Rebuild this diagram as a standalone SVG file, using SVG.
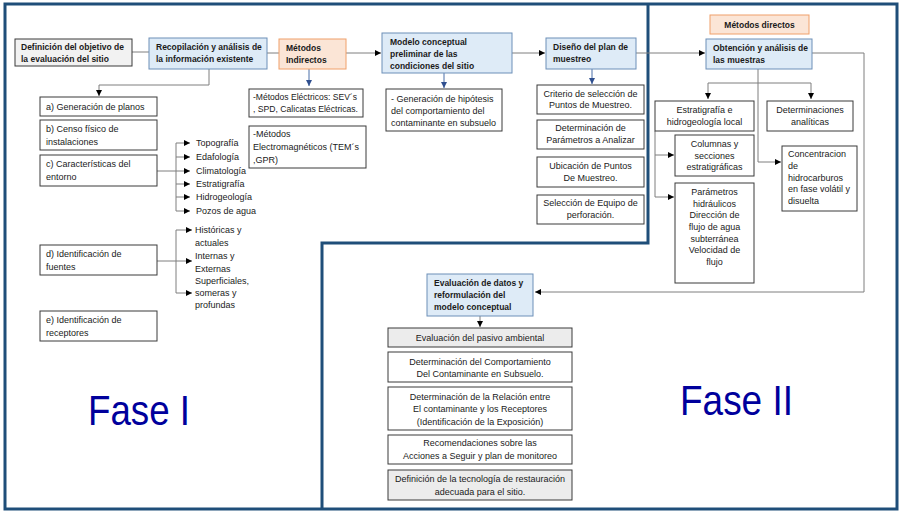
<svg xmlns="http://www.w3.org/2000/svg" width="902" height="515" viewBox="0 0 902 515">
<defs>
<style>
.t{font-family:"Liberation Sans",Arial,sans-serif;font-size:9px;fill:#1a1a1a}
.b{font-weight:bold;font-size:8.5px}
.c{text-anchor:middle}
.box{fill:#fff;stroke:#3a3a3a;stroke-width:1}
.gray{fill:#ececec;stroke:#3a3a3a;stroke-width:1}
.blue{fill:#deebf7;stroke:#6d8fb8;stroke-width:1}
.org{fill:#fbe5d6;stroke:#f0a06a;stroke-width:1}
.ln{fill:none;stroke:#7f7f7f;stroke-width:1}
.lb{fill:none;stroke:#4a6fa8;stroke-width:1}
.fase{font-family:"Liberation Sans",Arial,sans-serif;font-size:42px;fill:#00009c}
</style>
<marker id="ah" viewBox="0 0 10 10" refX="10" refY="5" markerWidth="6" markerHeight="6" markerUnits="userSpaceOnUse" orient="auto"><path d="M0,0 L10,5 L0,10 z" fill="#000"/></marker>
<marker id="ahb" viewBox="0 0 10 10" refX="10" refY="5" markerWidth="6" markerHeight="6" markerUnits="userSpaceOnUse" orient="auto"><path d="M0,0 L10,5 L0,10 z" fill="#2f4f8f"/></marker>
</defs>
<rect x="0" y="0" width="902" height="515" fill="#fff"/>

<g id="frame" fill="none" stroke="#1f4e79" stroke-width="3">
<rect x="5" y="4" width="892" height="505"/>
<polyline points="648,4 648,243 322,243 322,509"/>
</g>

<g id="connectors">
<line class="ln" x1="132" y1="52" x2="149" y2="52"/>
<line class="ln" x1="267" y1="53" x2="279" y2="53"/>
<line class="ln" x1="346" y1="53" x2="381" y2="53" marker-end="url(#ah)"/>
<line class="ln" x1="512" y1="53" x2="545" y2="53" marker-end="url(#ah)"/>
<line class="ln" x1="636" y1="53" x2="705" y2="53" marker-end="url(#ah)"/>
<polyline class="ln" points="209,69 209,85 99,85 99,96" marker-end="url(#ah)"/>
<line class="lb" x1="309" y1="69" x2="309" y2="86" marker-end="url(#ahb)"/>
<line class="lb" x1="444" y1="73" x2="444" y2="88" marker-end="url(#ahb)"/>
<line class="lb" x1="592" y1="69" x2="592" y2="84" marker-end="url(#ahb)"/>
<line class="ln" x1="157" y1="171" x2="176" y2="171"/>
<line class="ln" x1="176" y1="143" x2="176" y2="211"/>
<line class="ln" x1="176" y1="143" x2="190" y2="143" marker-end="url(#ah)"/>
<line class="ln" x1="176" y1="157" x2="190" y2="157" marker-end="url(#ah)"/>
<line class="ln" x1="176" y1="171" x2="190" y2="171" marker-end="url(#ah)"/>
<line class="ln" x1="176" y1="184" x2="190" y2="184" marker-end="url(#ah)"/>
<line class="ln" x1="176" y1="197" x2="190" y2="197" marker-end="url(#ah)"/>
<line class="ln" x1="176" y1="211" x2="190" y2="211" marker-end="url(#ah)"/>
<line class="ln" x1="157" y1="261" x2="176" y2="261"/>
<line class="ln" x1="176" y1="230" x2="176" y2="293"/>
<line class="ln" x1="176" y1="230" x2="192" y2="230" marker-end="url(#ah)"/>
<line class="ln" x1="176" y1="261" x2="192" y2="261" marker-end="url(#ah)"/>
<line class="ln" x1="176" y1="293" x2="192" y2="293" marker-end="url(#ah)"/>
<polyline class="ln" points="758,69 758,162 781,162" marker-end="url(#ah)"/>
<line class="ln" x1="708" y1="83" x2="811" y2="83"/>
<line class="ln" x1="708" y1="83" x2="708" y2="99" marker-end="url(#ah)"/>
<line class="ln" x1="811" y1="83" x2="811" y2="99" marker-end="url(#ah)"/>
<line class="ln" x1="655" y1="131" x2="655" y2="197"/>
<line class="ln" x1="655" y1="155" x2="674" y2="155" marker-end="url(#ah)"/>
<line class="ln" x1="655" y1="197" x2="674" y2="197" marker-end="url(#ah)"/>
<polyline class="ln" points="812,53 864,53 864,292 535,292" marker-end="url(#ah)"/>
<line class="ln" x1="480" y1="316" x2="480" y2="327" marker-end="url(#ah)"/>
</g>

<g id="n_defobj"><rect class="gray" x="15" y="39" width="117" height="27" style="fill:#f2f2f2"/>
<text class="t b" x="21" y="50">Definición del objetivo de</text><text class="t b" x="21" y="62">la evaluación del sitio</text></g>
<g id="n_recop"><rect class="blue" x="149" y="38" width="118" height="31"/>
<text class="t b" x="156" y="50">Recopilación y análisis de</text><text class="t b" x="156" y="62">la información existente</text></g>
<g id="n_metind"><rect class="org" x="279" y="39" width="67" height="30"/>
<text class="t b" x="286" y="51">Métodos</text><text class="t b" x="286" y="63">Indirectos</text></g>
<g id="n_modelo"><rect class="blue" x="382" y="33" width="130" height="40"/>
<text class="t b" x="390" y="45">Modelo conceptual</text><text class="t b" x="390" y="57">preliminar de las</text><text class="t b" x="390" y="69">condiciones del sitio</text></g>
<g id="n_diseno"><rect class="blue" x="546" y="38" width="90" height="31"/>
<text class="t b" x="553" y="50">Diseño del plan de</text><text class="t b" x="553" y="62">muestreo</text></g>
<g id="n_metdir"><rect class="org" x="710" y="15" width="99" height="19"/>
<text class="t b c" x="759.5" y="28">Métodos directos</text></g>
<g id="n_obt"><rect class="blue" x="706" y="39" width="106" height="30"/>
<text class="t b" x="713" y="51">Obtención y análisis de</text><text class="t b" x="713" y="63">las muestras</text></g>

<g id="n_a"><rect class="box" x="40" y="97" width="117" height="19"/><text class="t" x="46" y="110">a) Generación de planos</text></g>
<g id="n_b"><rect class="box" x="40" y="120" width="117" height="30"/><text class="t" x="46" y="132">b) Censo físico de</text><text class="t" x="46" y="145">instalaciones</text></g>
<g id="n_c"><rect class="box" x="40" y="155" width="117" height="31"/><text class="t" x="46" y="167">c) Características del</text><text class="t" x="46" y="180">entorno</text></g>
<g id="n_c_items">
<text class="t" x="196" y="146">Topografía</text><text class="t" x="196" y="160">Edafología</text><text class="t" x="196" y="174">Climatología</text>
<text class="t" x="196" y="187">Estratigrafía</text><text class="t" x="196" y="200">Hidrogeología</text><text class="t" x="196" y="214">Pozos de agua</text></g>
<g id="n_d"><rect class="box" x="40" y="245" width="117" height="30"/><text class="t" x="46" y="257">d) Identificación de</text><text class="t" x="46" y="270">fuentes</text></g>
<g id="n_d_items">
<text class="t" x="195" y="233">Históricas y</text><text class="t" x="195" y="246">actuales</text>
<text class="t" x="195" y="259">Internas y</text><text class="t" x="195" y="272">Externas</text>
<text class="t" x="195" y="284">Superficiales,</text><text class="t" x="195" y="296">someras y</text><text class="t" x="195" y="308">profundas</text></g>
<g id="n_e"><rect class="box" x="40" y="311" width="117" height="30"/><text class="t" x="46" y="323">e) Identificación de</text><text class="t" x="46" y="336">receptores</text></g>

<g id="n_elec"><rect class="box" x="249" y="89" width="114" height="28"/><text class="t" x="253" y="100" textLength="104" lengthAdjust="spacingAndGlyphs">-Métodos Eléctricos: SEV´s</text><text class="t" x="253" y="112" textLength="105" lengthAdjust="spacingAndGlyphs">, SPD, Calicatas Eléctricas.</text></g>
<g id="n_em"><rect class="box" x="249" y="126" width="117" height="42"/><text class="t" x="253" y="137">-Métodos</text><text class="t" x="253" y="150">Electromagnéticos (TEM´s</text><text class="t" x="253" y="163">,GPR)</text></g>
<g id="n_hip"><rect class="box" x="386" y="89" width="116" height="42"/><text class="t" x="391" y="102">- Generación de hipótesis</text><text class="t" x="391" y="114">del comportamiento del</text><text class="t" x="391" y="126">contaminante en subsuelo</text></g>

<g id="n_crit"><rect class="box" x="537" y="85" width="107" height="29"/><text class="t c" x="590.5" y="96.5">Criterio de selección de</text><text class="t c" x="590.5" y="108">Puntos de Muestreo.</text></g>
<g id="n_det"><rect class="box" x="537" y="120" width="107" height="29"/><text class="t c" x="590.5" y="131">Determinación de</text><text class="t c" x="590.5" y="143">Parámetros a Analizar</text></g>
<g id="n_ubi"><rect class="box" x="537" y="157" width="107" height="30"/><text class="t c" x="590.5" y="169">Ubicación de Puntos</text><text class="t c" x="590.5" y="181">De Muestreo.</text></g>
<g id="n_sel"><rect class="box" x="537" y="195" width="107" height="29"/><text class="t c" x="590.5" y="206">Selección de Equipo de</text><text class="t c" x="590.5" y="218">perforación.</text></g>

<g id="n_estr"><rect class="box" x="655" y="101" width="99" height="30"/><text class="t c" x="704.5" y="113">Estratigrafía e</text><text class="t c" x="704.5" y="125">hidrogeología local</text></g>
<g id="n_detan"><rect class="box" x="767" y="101" width="86" height="30"/><text class="t c" x="810" y="113">Determinaciones</text><text class="t c" x="810" y="125">analíticas</text></g>
<g id="n_col"><rect class="box" x="675" y="135" width="79" height="41"/><text class="t c" x="714.5" y="147">Columnas y</text><text class="t c" x="714.5" y="159">secciones</text><text class="t c" x="714.5" y="170">estratigráficas</text></g>
<g id="n_par"><rect class="box" x="675" y="183" width="79" height="100"/>
<text class="t c" x="714.5" y="195">Parámetros</text><text class="t c" x="714.5" y="206.5">hidráulicos</text><text class="t c" x="714.5" y="218">Dirección de</text><text class="t c" x="714.5" y="230">flujo de agua</text><text class="t c" x="714.5" y="241.5">subterránea</text><text class="t c" x="714.5" y="253">Velocidad de</text><text class="t c" x="714.5" y="265">flujo</text></g>
<g id="n_conc"><rect class="box" x="782" y="146" width="75" height="65"/>
<text class="t" x="788" y="157">Concentracion</text><text class="t" x="788" y="169">de</text><text class="t" x="788" y="180.5">hidrocarburos</text><text class="t" x="788" y="192">en fase volátil y</text><text class="t" x="788" y="204">disuelta</text></g>

<g id="n_eval"><rect class="blue" x="427" y="274" width="106" height="42"/>
<text class="t b" x="434" y="286">Evaluación de datos y</text><text class="t b" x="434" y="298">reformulación del</text><text class="t b" x="434" y="310">modelo conceptual</text></g>
<g id="n_pas"><rect class="gray" x="388" y="328" width="184" height="19"/><text class="t c" x="480" y="341">Evaluación del pasivo ambiental</text></g>
<g id="n_comp"><rect class="box" x="388" y="352" width="184" height="30"/><text class="t c" x="480" y="365">Determinación del Comportamiento</text><text class="t c" x="480" y="377">Del Contaminante en Subsuelo.</text></g>
<g id="n_rel"><rect class="box" x="388" y="387" width="184" height="43"/><text class="t c" x="480" y="400">Determinación de la Relación entre</text><text class="t c" x="480" y="412">El contaminante y los Receptores</text><text class="t c" x="480" y="425">(Identificación de la Exposición)</text></g>
<g id="n_rec"><rect class="box" x="388" y="435" width="184" height="29"/><text class="t c" x="480" y="446">Recomendaciones sobre las</text><text class="t c" x="480" y="459">Acciones a Seguir y plan de monitoreo</text></g>
<g id="n_tec"><rect class="gray" x="388" y="470" width="184" height="30"/><text class="t c" x="480" y="482">Definición de la tecnología de restauración</text><text class="t c" x="480" y="495">adecuada para el sitio.</text></g>

<text class="fase" x="88" y="425" textLength="102" lengthAdjust="spacingAndGlyphs">Fase I</text>
<text class="fase" x="680" y="415" textLength="113" lengthAdjust="spacingAndGlyphs">Fase II</text>
</svg>
